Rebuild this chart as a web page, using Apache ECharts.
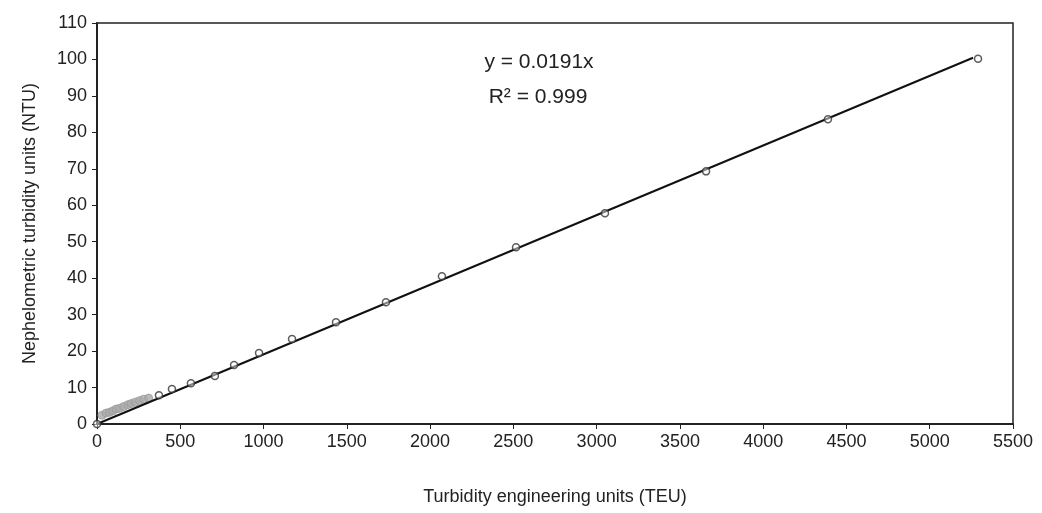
<!DOCTYPE html>
<html>
<head>
<meta charset="utf-8">
<script src="https://cdn.jsdelivr.net/npm/echarts@6/dist/echarts.min.js"></script>
<style>
  html, body { margin: 0; padding: 0; background: #fff; }
  #chart { width: 1042px; height: 513px; }
</style>
</head>
<body>
<div id="chart"></div>
<script>
// calibration points: [TEU, NTU]
const mainPoints = [
  [0, 0], [372, 7.9], [450, 9.6], [564, 11.2], [708, 13.2], [823, 16.2],
  [973, 19.5], [1171, 23.3], [1435, 27.9], [1735, 33.4], [2071, 40.5],
  [2516, 48.5], [3050, 57.8], [3657, 69.3], [4389, 83.6], [5290, 100.2]
]
// grey low-range cluster near the origin
const lowPoints = [
  [30, 2.4], [55, 3.0], [75, 3.2], [95, 3.6], [115, 4.1], [135, 4.3],
  [160, 4.8], [185, 5.3], [205, 5.6], [230, 6.0], [255, 6.4], [280, 6.8], [310, 7.1]
]
const slope = 0.0191
const fitEnd = 5260
const xTicks = { min: 0, max: 5500, interval: 500 }
const yTicks = { min: 0, max: 110, interval: 10 }

const chart = echarts.init(document.getElementById('chart'))
const font = 'Liberation Sans, Arial, sans-serif'

chart.setOption({
  animation: false,
  backgroundColor: '#fff',
  grid: {
    left: 97, right: 29, top: 23, bottom: 89,
    show: true, borderColor: '#222', borderWidth: 1.5
  },
  xAxis: {
    type: 'value',
    min: xTicks.min, max: xTicks.max, interval: xTicks.interval,
    name: 'Turbidity engineering units (TEU)',
    nameLocation: 'middle', nameGap: 64,
    nameTextStyle: { fontFamily: font, fontSize: 18, color: '#222' },
    axisLine: { lineStyle: { color: '#222', width: 2 } },
    axisTick: { show: true, length: 5, lineStyle: { color: '#222' } },
    axisLabel: { fontFamily: font, fontSize: 18, color: '#222', margin: 9, formatter: v => String(v) },
    splitLine: { show: false }
  },
  yAxis: {
    type: 'value',
    min: yTicks.min, max: yTicks.max, interval: yTicks.interval,
    name: 'Nephelometric turbidity units (NTU)',
    nameLocation: 'middle', nameGap: 58,
    nameTextStyle: { fontFamily: font, fontSize: 18, color: '#222' },
    axisLine: { lineStyle: { color: '#222', width: 2 } },
    axisTick: { show: true, length: 5, lineStyle: { color: '#222' } },
    axisLabel: { fontFamily: font, fontSize: 18, color: '#222', margin: 10 },
    splitLine: { show: false }
  },
  graphic: [
    {
      type: 'text', x: 539, y: 62,
      style: { text: 'y = 0.0191x', font: '21px ' + font, fill: '#222', align: 'center', verticalAlign: 'middle' }
    },
    {
      type: 'text', x: 538, y: 97,
      style: { text: 'R\u00b2 = 0.999', font: '21px ' + font, fill: '#222', align: 'center', verticalAlign: 'middle' }
    }
  ],
  series: [
    {
      type: 'line',
      data: [[0, 0], [fitEnd, slope * fitEnd]],
      symbol: 'none',
      lineStyle: { color: '#111', width: 2 },
      z: 3
    },
    {
      type: 'scatter',
      data: lowPoints,
      symbol: 'circle', symbolSize: 8,
      itemStyle: { color: '#aaa', borderColor: '#999', borderWidth: 1 },
      z: 2
    },
    {
      type: 'scatter',
      data: mainPoints,
      symbol: 'circle', symbolSize: 7,
      itemStyle: { color: 'rgba(255,255,255,0.6)', borderColor: '#333', borderWidth: 1.5 },
      z: 4
    }
  ]
})
</script>
</body>
</html>
